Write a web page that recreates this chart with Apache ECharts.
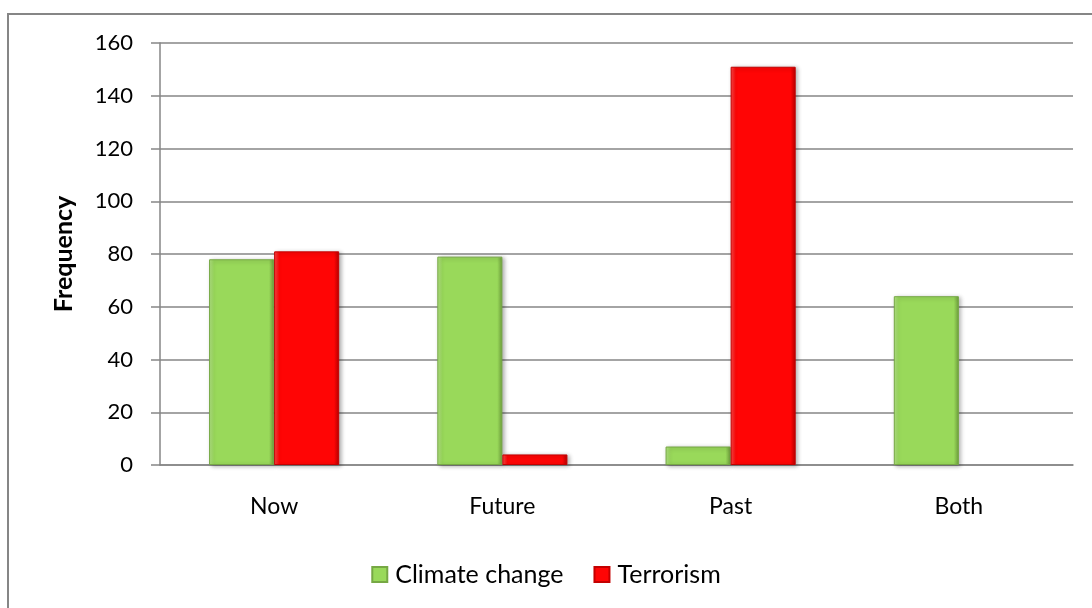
<!DOCTYPE html>
<html>
<head>
<meta charset="utf-8">
<script src="https://cdn.jsdelivr.net/npm/echarts@6/dist/echarts.min.js"></script>
<style>
  html, body { margin: 0; padding: 0; background: #fff; }
  #chart { width: 1092px; height: 608px; }
</style>
</head>
<body>
<div id="chart"></div>
<script>
const categories = ['Now', 'Future', 'Past', 'Both'];
const climateChange = [78, 79, 7, 64];
const terrorism = [81, 4, 151, 0];
const yTicks = { min: 0, max: 160, interval: 20 };

const font = 'Lato, "Open Sans", sans-serif';
const gridColor = '#868686';

function bevel(light, mid, dark) {
    return new echarts.graphic.LinearGradient(0, 0, 1, 0, [
        { offset: 0, color: light },
        { offset: 0.08, color: mid },
        { offset: 0.92, color: mid },
        { offset: 1, color: dark }
    ]);
}

// zero-height bars draw nothing in the original
function barData(values) {
    return values.map(v => v === 0
        ? { value: v, itemStyle: { borderWidth: 0, shadowBlur: 0, shadowOffsetX: 0, shadowOffsetY: 0, opacity: 0 } }
        : v);
}

const chart = echarts.init(document.getElementById('chart'), null, { renderer: 'canvas' });

chart.setOption({
    backgroundColor: '#fff',
    animation: false,
    textStyle: { fontFamily: font },
    graphic: [{
        type: 'rect',
        shape: { x: 8, y: 14, width: 1100, height: 620 },
        style: { fill: 'none', stroke: gridColor, lineWidth: 2 },
        silent: true
    }],
    grid: { left: 160, right: 19, top: 43, bottom: 143 },
    legend: {
        bottom: 16,
        left: 'center',
        itemWidth: 15,
        itemHeight: 15,
        itemGap: 30,
        icon: 'rect',
        textStyle: { fontFamily: font, fontSize: 25, color: '#000', padding: [0, 0, 0, 3] },
        data: ['Climate change', 'Terrorism']
    },
    xAxis: {
        type: 'category',
        data: categories,
        axisLine: { lineStyle: { color: gridColor, width: 1.5 } },
        axisTick: { show: false },
        axisLabel: { margin: 30, fontFamily: font, fontSize: 23, color: '#000' }
    },
    yAxis: {
        type: 'value',
        min: yTicks.min,
        max: yTicks.max,
        interval: yTicks.interval,
        name: 'Frequency',
        nameLocation: 'middle',
        nameGap: 84,
        nameTextStyle: { fontFamily: font, fontSize: 25, fontWeight: 'bold', color: '#000' },
        axisLine: { show: true, lineStyle: { color: gridColor, width: 1.5 } },
        axisTick: { show: true, length: 9, lineStyle: { color: gridColor, width: 1.5 } },
        axisLabel: { margin: 27, fontFamily: font, fontSize: 22, color: '#000' },
        splitLine: { lineStyle: { color: gridColor, width: 1.5 } }
    },
    series: [
        {
            name: 'Climate change',
            type: 'bar',
            data: barData(climateChange),
            barGap: '0%',
            barCategoryGap: '43%',
            itemStyle: {
                color: bevel('#b4e585', '#99d95a', '#6e9e3c'),
                borderColor: '#76a844',
                borderWidth: 1,
                shadowColor: 'rgba(0,0,0,0.3)',
                shadowBlur: 4,
                shadowOffsetX: 2,
                shadowOffsetY: 1
            }
        },
        {
            name: 'Terrorism',
            type: 'bar',
            data: barData(terrorism),
            itemStyle: {
                color: bevel('#ff4a4a', '#ff0505', '#b80000'),
                borderColor: '#c40000',
                borderWidth: 1,
                shadowColor: 'rgba(0,0,0,0.3)',
                shadowBlur: 4,
                shadowOffsetX: 2,
                shadowOffsetY: 1
            }
        }
    ]
});

window.addEventListener('resize', () => chart.resize());
</script>
</body>
</html>
